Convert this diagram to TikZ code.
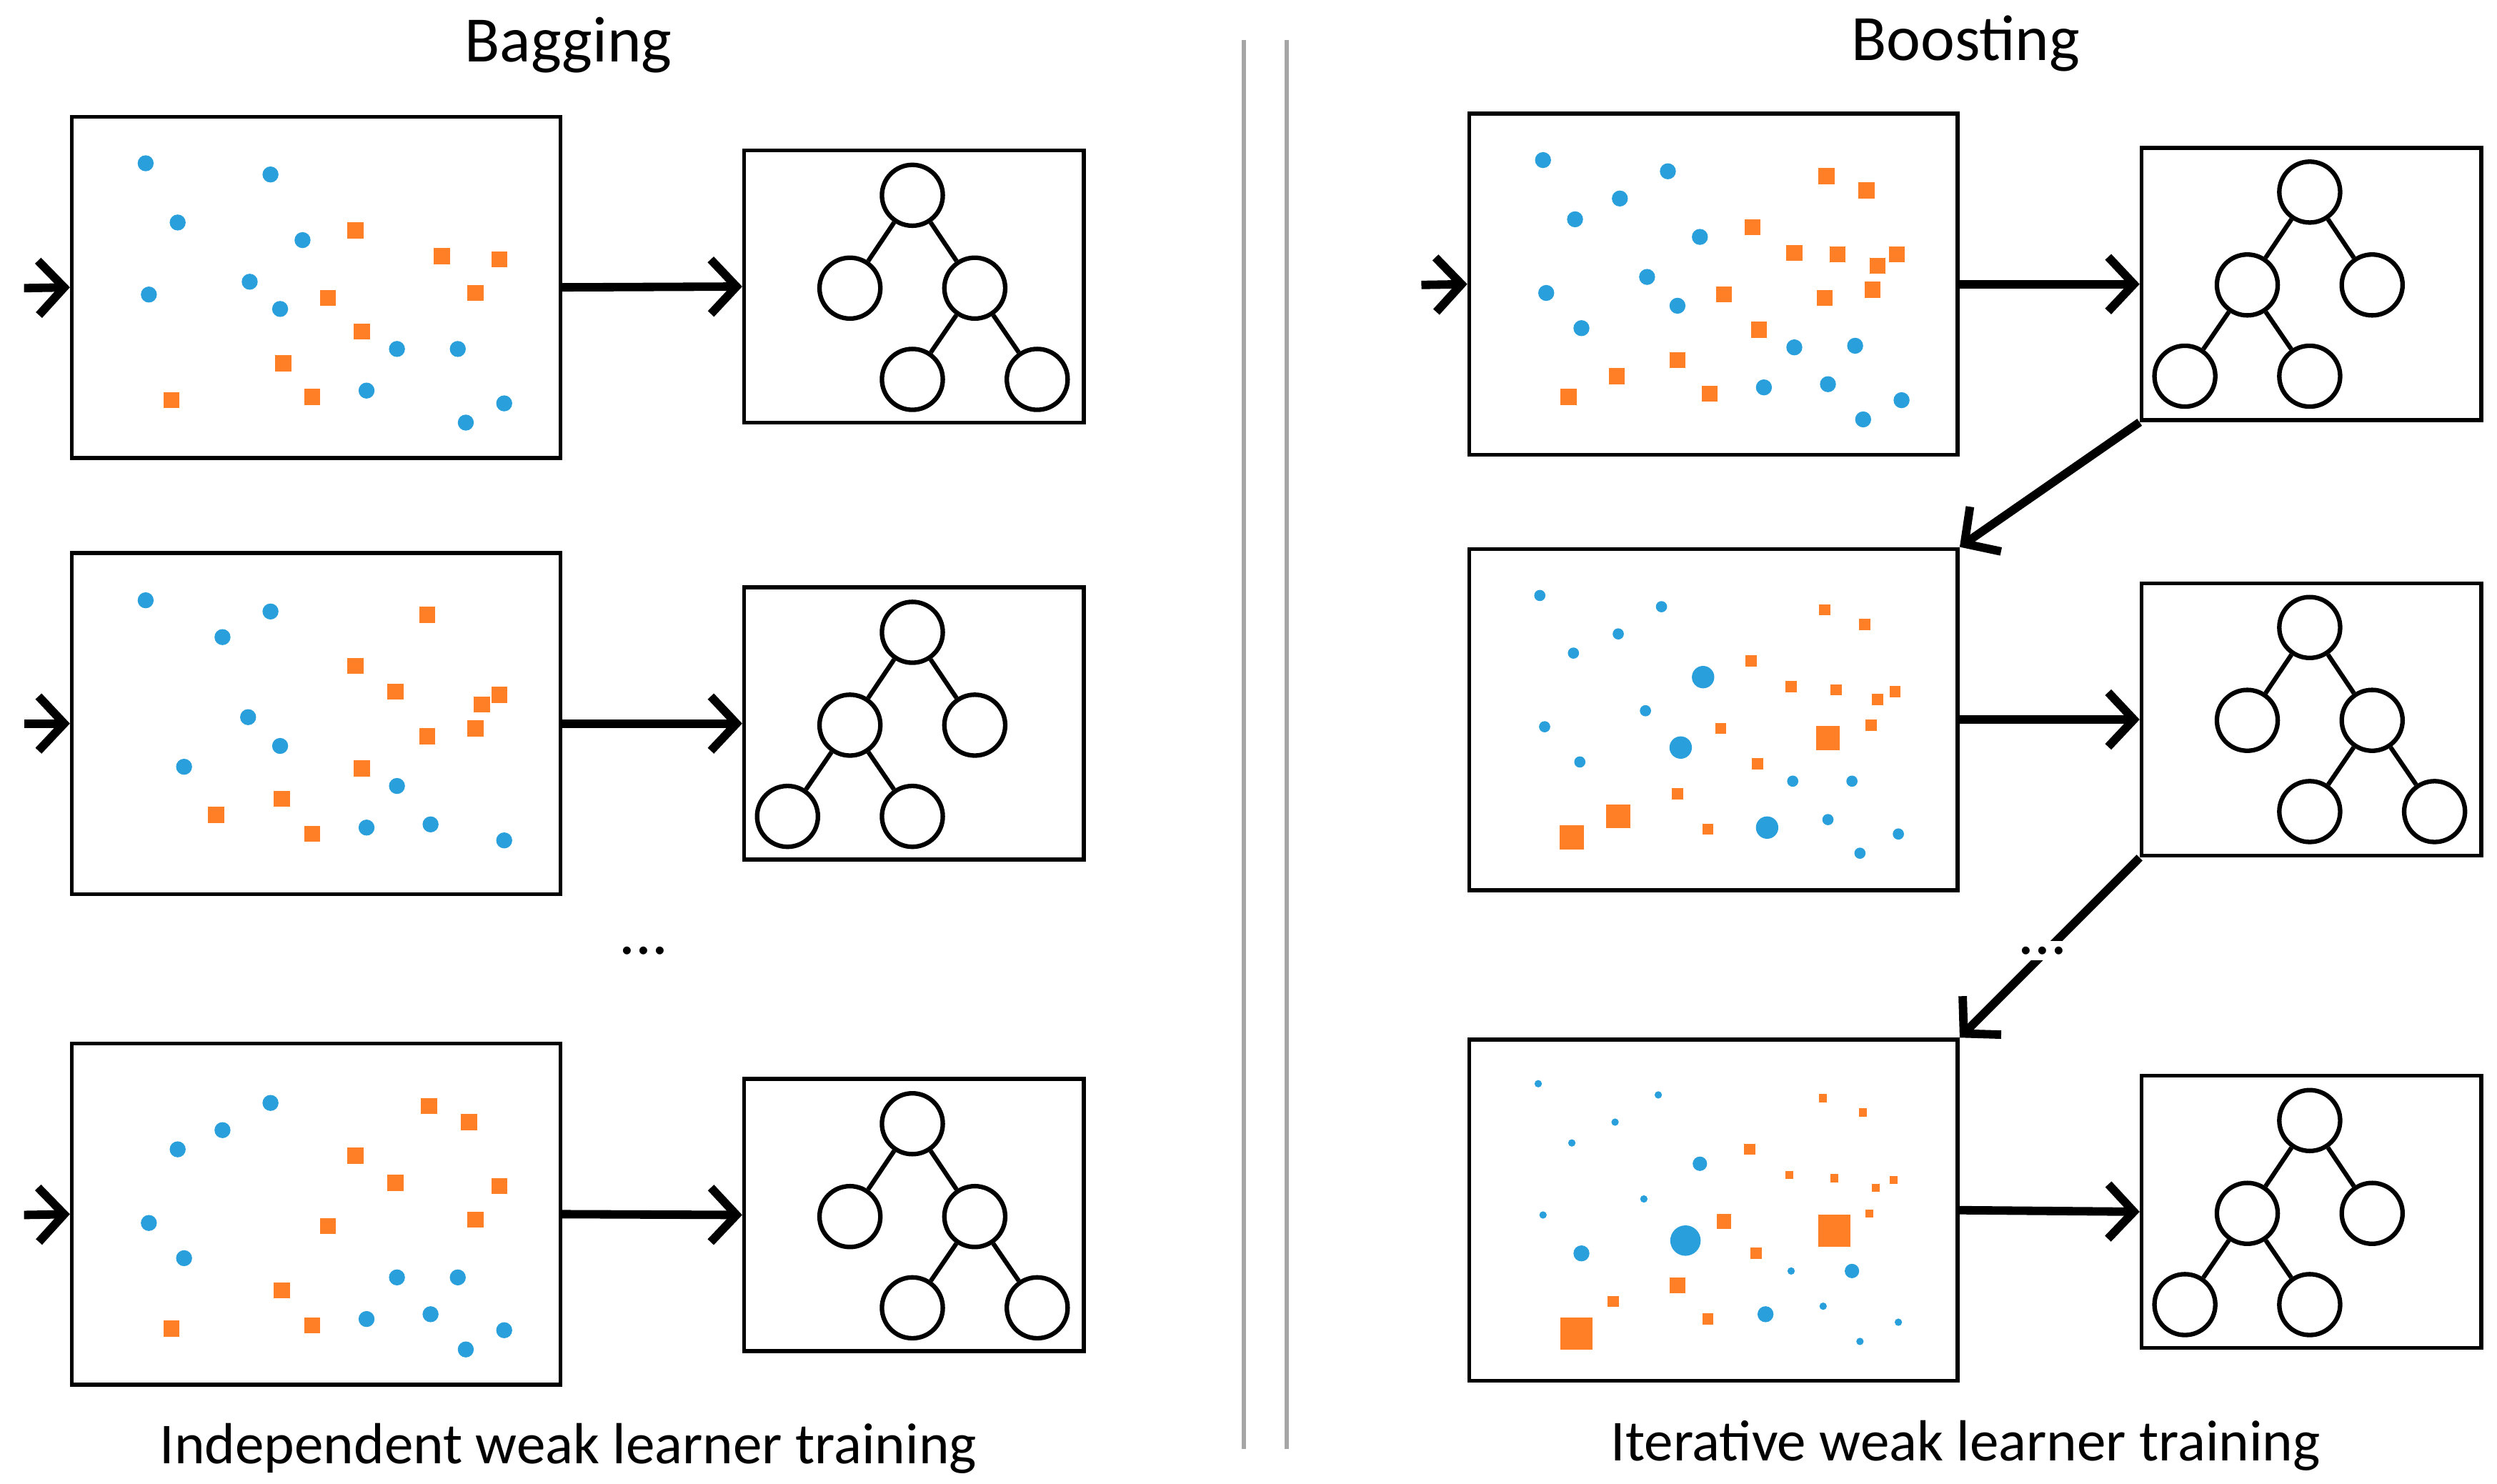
\documentclass[tikz,border=0pt]{standalone}
\usepackage{fontspec}
\setmainfont{Carlito}
\usetikzlibrary{arrows.meta}
\definecolor{cb}{RGB}{41,160,220}
\definecolor{co}{RGB}{255,127,39}
\newcommand\bdot[3]{\fill[cb] (#1,#2) circle[radius=#3];}
\newcommand\osq[3]{\fill[co] ({#1-#3/2},{#2-#3/2}) rectangle ++(#3,#3);}
\begin{document}
\begin{tikzpicture}[x=0.01cm,y=-0.01cm,
  box/.style={draw,line width=0.7pt,minimum width=3.05cm,minimum height=2.13cm,inner sep=0},
  tbox/.style={draw,line width=0.7pt,minimum width=2.12cm,minimum height=1.70cm,inner sep=0},
  tn/.style={draw,circle,line width=0.8pt,minimum size=0.38cm,inner sep=0},
  tl/.style={line width=0.8pt},
  arr/.style={line width=1.5pt,-{Straight Barb[length=0.16cm,width=0.34cm,line width=1.5pt]}},
  lbl/.style={font=\fontsize{11.5}{13}\selectfont},
  sub/.style={font=\fontsize{10.3}{12}\selectfont}]
\useasboundingbox (0,0) rectangle (1560,927);
\newcommand\treeR[3]{%
 \node[tn] (#1a) at (#2,#3) {};
 \node[tn] (#1b) at (#2-39,#3+58) {};
 \node[tn] (#1c) at (#2+39,#3+58) {};
 \node[tn] (#1d) at (#2,#3+115) {};
 \node[tn] (#1e) at (#2+78,#3+115) {};
 \draw[tl] (#1a)--(#1b) (#1a)--(#1c) (#1c)--(#1d) (#1c)--(#1e);}
\newcommand\treeL[3]{%
 \node[tn] (#1a) at (#2,#3) {};
 \node[tn] (#1b) at (#2-39,#3+58) {};
 \node[tn] (#1c) at (#2+39,#3+58) {};
 \node[tn] (#1d) at (#2-78,#3+115) {};
 \node[tn] (#1e) at (#2,#3+115) {};
 \draw[tl] (#1a)--(#1b) (#1a)--(#1c) (#1b)--(#1d) (#1b)--(#1e);}
% separators
\draw[gray!70,line width=0.8pt] (777,25)--(777,905) (804,25)--(804,905);
% titles
\node[lbl] (tB) at (355,28) {Bagging};
\node[lbl] (tS) at (1228,27) {Boosting};
\node[sub] (bB) at (355,905) {Independent weak learner training};
\node[sub] (bS) at (1228,903) {Iterative weak learner training};
% boxes
\node[box] (d1) at (197.5,179.5) {};
\node[box] (d2) at (197.5,452) {};
\node[box] (d3) at (197.5,758.5) {};
\node[tbox] (t1) at (571,179) {};
\node[tbox] (t2) at (571,452) {};
\node[tbox] (t3) at (571,759) {};
\node[box] (e1) at (1070.5,177.5) {};
\node[box] (e2) at (1070.5,449.5) {};
\node[box] (e3) at (1070.5,756) {};
\node[tbox] (u1) at (1444,177.5) {};
\node[tbox] (u2) at (1444,449.5) {};
\node[tbox] (u3) at (1444,757) {};
% trees
\treeR{ta}{570}{122}
\treeL{tb}{570}{395}
\treeR{tc}{570}{702}
\treeL{ua}{1443}{120}
\treeR{ub}{1443}{392}
\treeL{uc}{1443}{700}
% arrows
\coordinate (i1) at (15,180); \coordinate (i2) at (15,452); \coordinate (i3) at (15,759);
\coordinate (j1) at (888,178);
\draw[arr] (i1)--(d1.west); \draw[arr] (i2)--(d2.west); \draw[arr] (i3)--(d3.west);
\draw[arr] (j1)--(e1.west);
\draw[arr] (d1.east)--(t1.west); \draw[arr] (d2.east)--(t2.west); \draw[arr] (d3.east)--(t3.west);
\draw[arr] (e1.east)--(u1.west); \draw[arr] (e2.east)--(u2.west); \draw[arr] (e3.east)--(u3.west);
\draw[arr] (u1.south west)--(e2.north east);
\draw[arr] (u2.south west)--(e3.north east);
\node[fill=white,inner sep=1pt,lbl] (dd2) at (1276,594) {...};
\node[lbl] (dd1) at (402,594) {...};
% panel points
\foreach \x/\y in {91/102,169/109,111/139,189/150,93/184,156/176,175/193,248/218,286/218,229/244,291/264,315/252}{\bdot{\x}{\y}{5}}
\foreach \x/\y in {222/144,276/160,312/162,297/183,205/186,226/207,177/227,195/248,107/250}{\osq{\x}{\y}{10}}
\foreach \x/\y in {91/375,139/398,169/382,155/448,175/466,115/479,248/491,229/517,269/515,315/525}{\bdot{\x}{\y}{5}}
\foreach \x/\y in {267/384,222/416,247/432,301/440,312/434,297/455,267/460,226/480,176/499,135/509,195/521}{\osq{\x}{\y}{10}}
\foreach \x/\y in {169/689,139/706,111/718,93/764,115/786,248/798,286/798,229/824,269/821,315/831,291/843}{\bdot{\x}{\y}{5}}
\foreach \x/\y in {268/691,293/701,222/722,247/739,312/741,297/762,205/766,176/806,195/828,107/830}{\osq{\x}{\y}{10}}
\foreach \x/\y in {964/100,1042/107,1012/124,984/137,1062/148,1029/173,966/183,1048/191,988/205,1121/217,1159/216,1102/242,1142/240,1188/250,1164/262}{\bdot{\x}{\y}{5}}
\foreach \x/\y in {1141/110,1166/119,1095/142,1121/158,1148/159,1173/166,1185/159,1170/181,1140/186,1077/184,1099/206,1048/225,1010/235,980/248,1068/246}{\osq{\x}{\y}{10}}
\foreach \x/\y in {962/372,1038/379,1011/396,983/408,1028/444,965/454,987/476,1120/488,1157/488,1142/512,1186/521,1162/533}{\bdot{\x}{\y}{3.5}}
\foreach \x/\y in {1064/423,1050/467,1104/517}{\bdot{\x}{\y}{7}}
\foreach \x/\y in {1140/381,1165/390,1094/413,1119/429,1147/431,1173/437,1184/432,1169/453,1075/455,1098/477,1048/496,1067/518}{\osq{\x}{\y}{7}}
\foreach \x/\y in {1142/461,1011/510,982/523}{\osq{\x}{\y}{15}}
\foreach \x/\y in {961/677,1036/684,1009/701,982/714,1027/749,964/759,1119/794,1139/816,1186/826,1162/838}{\bdot{\x}{\y}{2.3}}
\foreach \x/\y in {1062/727,1157/794}{\bdot{\x}{\y}{4.5}}
\foreach \x/\y in {988/783,1103/821}{\bdot{\x}{\y}{5}}
\bdot{1053}{775}{9.5}
\foreach \x/\y in {1139/686,1164/695,1118/734,1146/736,1172/742,1183/737,1168/758}{\osq{\x}{\y}{5}}
\foreach \x/\y in {1093/718,1097/783,1067/824,1008/813}{\osq{\x}{\y}{7}}
\osq{1077}{763}{9} \osq{1048}{803}{10}
\osq{1146}{769}{20} \osq{985}{833}{20}
\end{tikzpicture}
\end{document}
